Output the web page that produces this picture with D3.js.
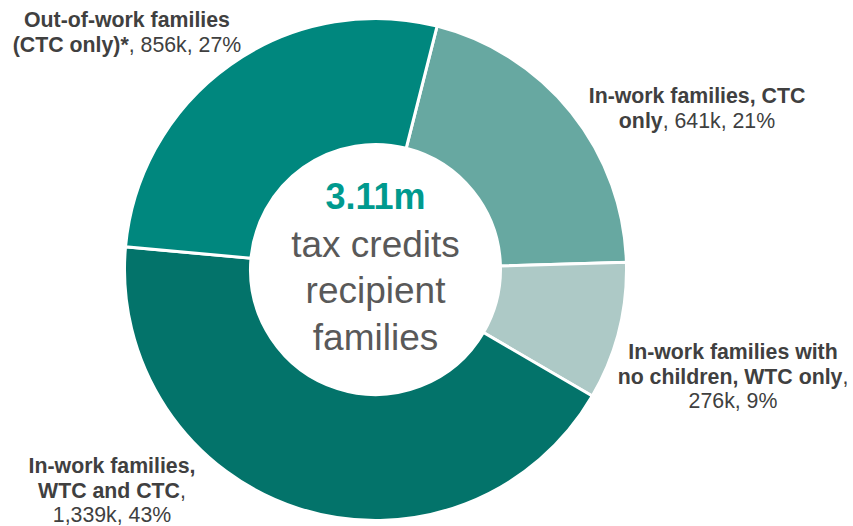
<!DOCTYPE html>
<html>
<head>
<meta charset="utf-8">
<script src="https://cdn.jsdelivr.net/npm/d3@7"></script>
<style>
  html, body { margin: 0; padding: 0; background: #ffffff; }
  svg { display: block; }
  text { font-family: "Liberation Sans", Arial, sans-serif; }
</style>
</head>
<body>
<svg id="chart" width="853" height="526"></svg>
<script>
// ---- Data ----
const categories = [
  "In-work families, CTC only",
  "In-work families with no children, WTC only",
  "In-work families, WTC and CTC",
  "Out-of-work families (CTC only)*"
];
const values = [641, 276, 1339, 856];          // thousands of families
const percents = ["21%", "9%", "43%", "27%"];
const valueLabels = ["641k", "276k", "1,339k", "856k"];
const colors = ["#67a8a1", "#adc9c6", "#03736a", "#00877e"];
const totalLabel = "3.11m";
const centerLines = ["tax credits", "recipient", "families"];

// label lines: [text, bold] segments per line
const labelLines = [
  [[["In-work families, CTC", true]], [["only", true], [", 641k, 21%", false]]],
  [[["In-work families with", true]], [["no children, WTC only", true], [",", false]], [["276k, 9%", false]]],
  [[["In-work families,", true]], [["WTC and CTC", true], [",", false]], [["1,339k, 43%", false]]],
  [[["Out-of-work families", true]], [["(CTC only)*", true], [", 856k, 27%", false]]]
];
const labelAnchors = [
  { x: 697, y: 103 },
  { x: 733, y: 359 },
  { x: 112, y: 473 },
  { x: 127, y: 27 }
];

// ---- Layout ----
const svg = d3.select("#chart");
const cx = 375.5, cy = 269.5;
const outerR = 251, innerR = 125;
const startAngle = 14.2 * Math.PI / 180;

const pie = d3.pie().sort(null).value(d => d)
  .startAngle(startAngle).endAngle(startAngle + 2 * Math.PI);
const arc = d3.arc().innerRadius(innerR).outerRadius(outerR);

const g = svg.append("g").attr("transform", `translate(${cx},${cy})`);
g.selectAll("path.slice")
  .data(pie(values))
  .join("path")
  .attr("class", "slice")
  .attr("d", arc)
  .attr("fill", (d, i) => colors[i])
  .attr("stroke", "#ffffff")
  .attr("stroke-width", 3)
  .attr("stroke-linejoin", "miter");

// centre text
g.append("text")
  .attr("x", 0).attr("y", -61)
  .attr("text-anchor", "middle")
  .attr("font-size", 36)
  .attr("font-weight", "bold")
  .attr("fill", "#009a8e")
  .text(totalLabel);
centerLines.forEach((t, i) => {
  g.append("text")
    .attr("x", 0).attr("y", -13 + i * 46.5)
    .attr("text-anchor", "middle")
    .attr("font-size", 37)
    .attr("fill", "#595959")
    .text(t);
});

// outer labels
const lineH = 24.5;
labelLines.forEach((lines, i) => {
  const a = labelAnchors[i];
  lines.forEach((segs, j) => {
    const t = svg.append("text")
      .attr("x", a.x).attr("y", a.y + j * lineH)
      .attr("text-anchor", "middle")
      .attr("font-size", 21.3)
      .attr("fill", "#404040");
    segs.forEach(([s, b]) => {
      t.append("tspan").attr("font-weight", b ? "bold" : "normal").text(s);
    });
  });
});
</script>
</body>
</html>
